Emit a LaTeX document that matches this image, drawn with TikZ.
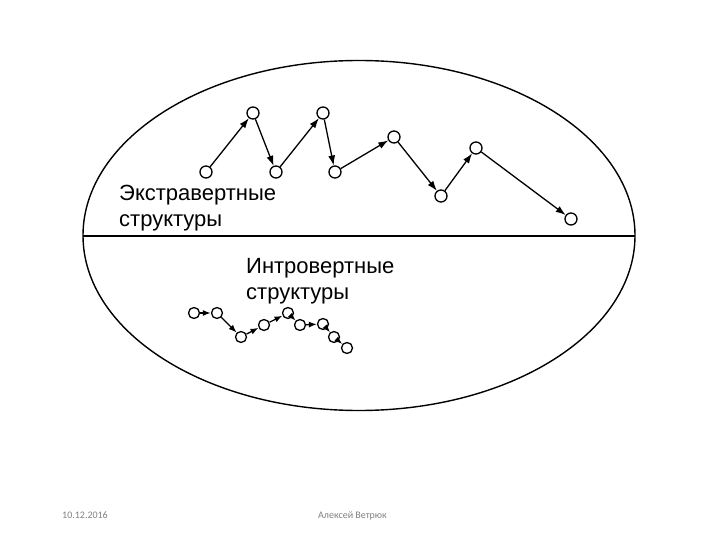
\documentclass[tikz,border=0pt]{standalone}
\usepackage{fontspec}
\setmainfont{Liberation Sans}
\newfontfamily\footfont{Carlito}
\usetikzlibrary{arrows.meta}
\begin{document}
\begin{tikzpicture}[x=1pt,y=-1pt,
  pt/.style={circle,draw,line width=1.3pt,minimum size=12pt,inner sep=0pt,fill=white},
  spt/.style={circle,draw,line width=1.3pt,minimum size=11pt,inner sep=0pt,fill=white},
  arr/.style={line width=1.3pt,-{Latex[length=10pt,width=7pt]}},
  sarr/.style={line width=1.3pt,-{Latex[length=8pt,width=6pt]}},
  lbl/.style={font=\fontsize{22}{26}\selectfont,align=left,inner sep=0pt,anchor=north west},
  foot/.style={font=\footfont\fontsize{10}{11}\selectfont,text=black!50,inner sep=0pt}]
\useasboundingbox (0,0) rectangle (720,540);
\draw[line width=1.4pt] (359,235.5) ellipse [x radius=276, y radius=175];
\coordinate (L) at (83,236);
\coordinate (R) at (635,236);
\draw[line width=2pt] (L) -- (R);
% upper nodes
\node[pt] (u1) at (206,172) {};
\node[pt] (u2) at (253,113) {};
\node[pt] (u3) at (276,172) {};
\node[pt] (u4) at (323,113) {};
\node[pt] (u5) at (335,172) {};
\node[pt] (u6) at (394,137) {};
\node[pt] (u7) at (441,196) {};
\node[pt] (u8) at (476,148) {};
\node[pt] (u9) at (571,219) {};
\foreach \a/\b in {u1/u2,u2/u3,u3/u4,u4/u5,u5/u6,u6/u7,u7/u8,u8/u9}
  \draw[arr] (\a) -- (\b);
% lower nodes
\node[spt] (l1) at (194,313) {};
\node[spt] (l2) at (217,313) {};
\node[spt] (l3) at (241,337) {};
\node[spt] (l4) at (264,325) {};
\node[spt] (l5) at (288,313) {};
\node[spt] (l6) at (300,325) {};
\node[spt] (l7) at (323,324) {};
\node[spt] (l8) at (334,337) {};
\node[spt] (l9) at (347,348) {};
\foreach \a/\b in {l1/l2,l2/l3,l3/l4,l4/l5,l5/l6,l6/l7,l7/l8,l8/l9}
  \draw[sarr] (\a) -- (\b);
% labels
\node[lbl] (t1) at (119,185) {Экстравертные\\структуры};
\node[lbl] (t2) at (246,258) {Интровертные\\структуры};
\node[foot,anchor=base west] (d) at (62,518) {10.12.2016};
\node[foot,anchor=base west] (a) at (318,518) {Алексей Ветрюк};
\end{tikzpicture}
\end{document}
